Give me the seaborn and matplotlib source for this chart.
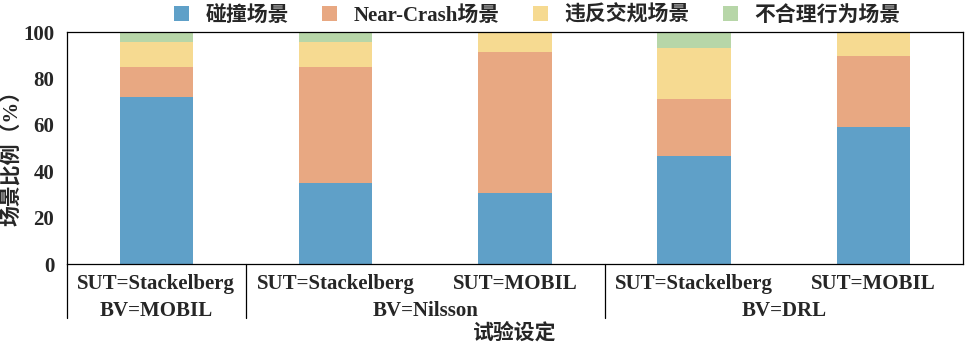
import matplotlib
matplotlib.use("Agg")
import matplotlib.pyplot as plt
import matplotlib.transforms as mtransforms
from matplotlib.patches import Patch
import numpy as np
import pandas as pd
import seaborn as sns

sns.set_theme(style="white")
plt.rcParams['font.family'] = ['Liberation Serif', 'Noto Sans CJK SC']
plt.rcParams['font.weight'] = 'bold'
plt.rcParams['axes.labelweight'] = 'bold'
plt.rcParams['axes.unicode_minus'] = False

# ---- data ----
settings = ["S1", "S2", "S3", "S4", "S5"]
sut_labels = ["SUT=Stackelberg", "SUT=Stackelberg", "SUT=MOBIL", "SUT=Stackelberg", "SUT=MOBIL"]
bv_labels = ["BV=MOBIL", "BV=Nilsson", "BV=DRL"]
bv_centers = [0, 1.5, 3.5]
series_names = ["碰撞场景", "Near-Crash场景", "违反交规场景", "不合理行为场景"]
collision = [72.1, 35.0, 30.5, 46.7, 59.2]
near_crash = [12.9, 50.0, 61.0, 24.3, 30.6]
violation = [10.8, 10.8, 8.5, 22.2, 10.2]
unreasonable = [4.2, 4.2, 0.0, 6.8, 0.0]
colors = ["#5FA0C8", "#E8A882", "#F6DA91", "#B7D6A8"]

series = [collision, near_crash, violation, unreasonable]
cum = np.cumsum(np.array(series), axis=0)

fig = plt.figure(figsize=(9.67, 3.48), dpi=100)
ax = fig.add_axes([0.069, 0.241, 0.927, 0.667])

# draw from top layer to bottom so stacking shows
for i in range(len(series) - 1, -1, -1):
    df = pd.DataFrame({"setting": settings, "value": cum[i]})
    sns.barplot(data=df, x="setting", y="value", order=settings, color=colors[i],
                saturation=1, width=0.41, ax=ax, errorbar=None, linewidth=0)

ax.set_ylim(0, 100)
ax.set_xlim(-0.5, 4.5)
ax.set_yticks([0, 20, 40, 60, 80, 100])
ax.tick_params(axis='y', labelsize=15, length=0, pad=9)
ax.set_xticks(range(len(settings)))
ax.set_xticklabels(sut_labels, fontsize=15)
ax.tick_params(axis='x', length=0, pad=7)
ax.set_xlabel("试验设定", fontsize=15, fontweight='bold')
ax.xaxis.set_label_coords(0.5, -0.255)
ax.set_ylabel("场景比例（%）", fontsize=15, fontweight='bold')
ax.yaxis.set_label_coords(-0.049, 0.48)

for sp in ax.spines.values():
    sp.set_visible(True)
    sp.set_color("black")
    sp.set_linewidth(0.9)

trans = mtransforms.blended_transform_factory(ax.transData, ax.transAxes)
for lbl, xc in zip(bv_labels, bv_centers):
    ax.text(xc, -0.16, lbl, transform=trans, ha="center", va="top", fontsize=15)
for xs in [-0.5, 0.5, 2.5]:
    ax.plot([xs, xs], [0, -0.23], transform=trans, color="black", lw=0.9, clip_on=False)

handles = [Patch(facecolor=c, edgecolor="none") for c in colors]
ax.legend(handles, series_names, loc="lower center", bbox_to_anchor=(0.525, 0.99),
          ncol=4, frameon=False, fontsize=15, handlelength=0.7, handleheight=0.7,
          columnspacing=1.6, handletextpad=0.8, borderaxespad=0)

fig.savefig("out.png", dpi=100)
